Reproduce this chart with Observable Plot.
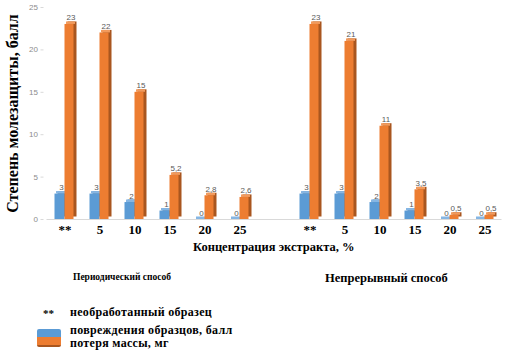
<!DOCTYPE html>
<html>
<head>
<meta charset="utf-8">
<script src="https://cdn.jsdelivr.net/npm/d3@7"></script>
<script src="https://cdn.jsdelivr.net/npm/@observablehq/plot@0.6"></script>
<style>
  html, body { margin: 0; padding: 0; background: #fff; }
  #wrap { position: relative; width: 520px; height: 354px; overflow: hidden; font-family: "Liberation Serif", serif; }
  #wrap svg { position: absolute; left: 0; top: 0; }
  .t { position: absolute; white-space: nowrap; font-weight: bold; color: #000; line-height: 1; }
  .sw { position: absolute; left: 37px; top: 329px; width: 24px; height: 18px; }
</style>
</head>
<body>
<div id="wrap"></div>
<script>
// ---- data ----
const categories = ["**", "5", "10", "15", "20", "25"];
const periodicDamage = [3, 3, 2, 1, 0, 0];
const periodicMass = [23, 22, 15, 5.2, 2.8, 2.6];
const continuousDamage = [3, 3, 2, 1, 0, 0];
const continuousMass = [23, 21, 11, 3.5, 0.5, 0.5];
const seriesNames = ["повреждения образцов, балл", "потеря массы, мг"];
const yTicks = [0, 5, 10, 15, 20, 25];
const yTitle = "Степень молезащиты, балл";
const xTitle = "Концентрация экстракта, %";
const groupNames = ["Периодический способ", "Непрерывный способ"];
const noteText = "необработанный  образец";

// ---- build table ----
const domain = [
  ...categories.map(c => "P" + c),
  "gap",
  ...categories.map(c => "C" + c)
];
const rows = [];
categories.forEach((c, i) => {
  rows.push({key: "P" + c, s: 0, v: periodicDamage[i]});
  rows.push({key: "P" + c, s: 1, v: periodicMass[i]});
  rows.push({key: "C" + c, s: 0, v: continuousDamage[i]});
  rows.push({key: "C" + c, s: 1, v: continuousMass[i]});
});
const blue = rows.filter(d => d.s === 0);
const orange = rows.filter(d => d.s === 1);
const fmt = v => String(v).replace(".", ",");

const front = ["#5b9bd5", "#ed7d31"];
const side = ["#3f6f9e", "#a9561f"];
const cap = ["#86b6e3", "#f29a5c"];
const ins = [{insetLeft: 7.5, insetRight: 17.5}, {insetLeft: 17.5, insetRight: 8.5}];

function barLayers(data, s) {
  return [
    Plot.barY(data, {x: "key", y: "v", fill: side[s], dx: 3, dy: -2.5, ...ins[s]}),
    Plot.barY(data, {x: "key", y: "v", fill: front[s], ...ins[s]}),
    Plot.barY(data, {x: "key", y1: "v", y2: "v", fill: cap[s], dx: 1.5, insetTop: -2.5, ...ins[s]}),
    Plot.text(data, {x: "key", y: "v", text: d => fmt(d.v), dx: s === 0 ? -3.5 : 6, dy: -4, lineAnchor: "bottom",
      fontSize: 8, fill: "#595959", fontFamily: "Liberation Sans, sans-serif"})
  ];
}

const chart = Plot.plot({
  width: 520,
  height: 252,
  marginTop: 7,
  marginBottom: 33,
  marginLeft: 46.5,
  marginRight: 18.5,
  style: {fontFamily: "Liberation Sans, sans-serif", background: "transparent"},
  x: {type: "band", domain, padding: 0, axis: null},
  y: {domain: [0, 25], axis: null},
  marks: [
    Plot.ruleX([0], {frameAnchor: "left", y1: 0, y2: 25, stroke: "#d9d9d9", dx: -3}),
    Plot.ruleY([0], {stroke: "#d9d9d9", strokeWidth: 1.2}),
    Plot.axisY({ticks: yTicks, tickSize: 3, tickPadding: 3, dx: -3, stroke: "#d9d9d9", fill: "#8c8c8c", fontSize: 8, label: null}),
    Plot.axisY({ticks: [], label: yTitle, labelAnchor: "center", labelOffset: 40, labelArrow: "none",
      fontSize: 16, fontWeight: "bold", fontFamily: "Liberation Serif, serif", fill: "#000"}),
    Plot.axisX({tickSize: 0, tickPadding: 5, fontSize: 13, fontWeight: "bold", fontFamily: "Liberation Serif, serif", fill: "#000",
      tickFormat: d => d === "gap" ? "" : d.slice(1), label: null}),
    ...barLayers(blue, 0),
    ...barLayers(orange, 1)
  ]
});

const wrap = document.getElementById("wrap");
wrap.appendChild(chart);
// y-axis title font (Times-like bold)
chart.querySelectorAll('[aria-label="y-axis label"] text, [aria-label="y-axis label"]').forEach(el => {
  el.setAttribute("font-family", "Liberation Serif, serif");
  el.style.fontFamily = '"Liberation Serif", serif';
});

function addText(txt, left, top, size, extra) {
  const d = document.createElement("div");
  d.className = "t";
  d.textContent = txt;
  d.style.left = left + "px";
  d.style.top = top + "px";
  d.style.fontSize = size + "px";
  if (extra) Object.assign(d.style, extra);
  wrap.appendChild(d);
  return d;
}
addText(xTitle, 193, 241, 12.5);
addText(groupNames[0], 73, 273, 9.5);
addText(groupNames[1], 325, 272, 12.5);
addText("**", 43, 308, 11);
addText(noteText, 70, 306, 12, {letterSpacing: "0.3px"});
addText(seriesNames[0], 70, 324, 12, {letterSpacing: "0.3px"});
addText(seriesNames[1], 70, 337, 12, {letterSpacing: "0.3px"});

const sw = document.createElement("div");
sw.className = "sw";
sw.style.background = `linear-gradient(to bottom, ${front[0]} 0%, ${front[0]} 45%, ${front[1]} 45%, ${front[1]} 88%, ${side[1]} 88%)`;
sw.style.borderRadius = "2px";
wrap.appendChild(sw);
</script>
</body>
</html>
